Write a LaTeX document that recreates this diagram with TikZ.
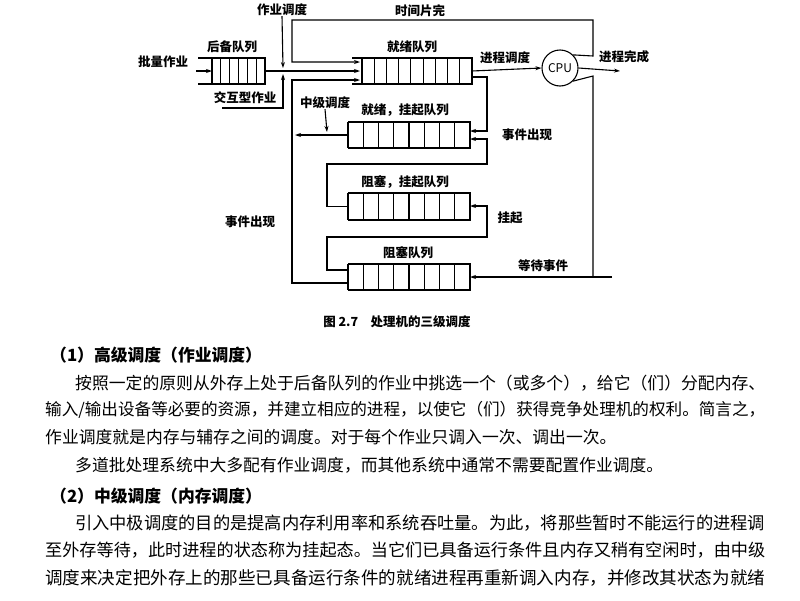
\documentclass[tikz,border=0pt]{standalone}
\usepackage{fontspec}
\setmainfont{Noto Sans CJK SC}
\usetikzlibrary{arrows.meta}
\newcommand\myqueue[6]{% name, xleft, xcellstart, xright, ytop, ybot ; ncells in \myn
  \node[draw=none,minimum width=0pt,inner sep=0pt] (#1) at ({(#2+#4)/2},{(#5+#6)/2}) {};
  \coordinate (#1-w) at (#2,{(#5+#6)/2});
  \coordinate (#1-e) at (#4,{(#5+#6)/2});
  \draw[ql] (#2,#5) -- (#4,#5) -- (#4,#6) -- (#2,#6);
  \foreach \i in {0,...,\myn} {\draw[ql] ({#3+(#4-#3)*\i/(\myn+1)},#5) -- ({#3+(#4-#3)*\i/(\myn+1)},#6);}
}
\newcommand\spreadline[2]{\resizebox{#1}{!}{#2}}
\begin{document}
\begin{tikzpicture}[x=1pt,y=-1pt,
  ql/.style={line width=1.1pt},
  cn/.style={line width=1.1pt},
  ar/.style={cn,-{Stealth[length=6pt,width=4pt]}},
  lb/.style={font=\fontsize{12.5}{13}\selectfont\bfseries,inner sep=0pt},
  tx/.style={font=\fontsize{16.8}{17}\selectfont,inner sep=0pt,anchor=west}]
\useasboundingbox (0,0) rectangle (800,600);
% queues
\def\myn{5}
\myqueue{hb}{198}{212}{265}{58}{84}
\def\myn{8}
\myqueue{jx}{352}{362}{472}{58}{84}
\def\myn{7}
\myqueue{jg}{348}{348}{470}{122}{148}
\myqueue{zg}{348}{348}{470}{193}{220}
\myqueue{zs}{348}{348}{470}{264}{290}
\node[lb] (lhb) at (232,47) {后备队列};
\node[lb] (ljx) at (412,47) {就绪队列};
\node[lb] (ljg) at (405,110) {就绪，挂起队列};
\node[lb] (lzg) at (405,182) {阻塞，挂起队列};
\node[lb] (lzs) at (408,253) {阻塞队列};
\node[circle,draw,line width=1.1pt,minimum size=36pt,inner sep=0pt,font=\fontsize{12}{12}\selectfont] (cpu) at (560,68) {CPU};
% labels
\node[lb] (lpl) at (163,62) {批量作业};
\node[lb] (ljh) at (245,98) {交互型作业};
\node[lb] (lzd) at (282,10) {作业调度};
\node[lb] (lsj) at (420,11) {时间片完};
\node[lb] (ljd) at (505,58) {进程调度};
\node[lb] (lwc) at (624,57) {进程完成};
\node[lb] (lzj) at (325,103) {中级调度};
\node[lb] (lsx1) at (527,135) {事件出现};
\node[lb] (lgq) at (510,218) {挂起};
\node[lb] (ldd) at (543,266) {等待事件};
\node[lb] (lsx2) at (250,222) {事件出现};
\node[font=\fontsize{12.5}{13}\selectfont\bfseries,inner sep=0pt] (cap) at (397,322) {图 2.7\quad 处理机的三级调度};
% connectors
\coordinate (pin) at (196,71);
\draw[ar] (pin) -- (212,71);
\draw[ar] (hb-e) -- (360,71);
\draw[ar] (lzd.south) -- (283,68);
\coordinate (jhs) at (222,108);
\draw[ar] (jhs) -- (283,108) -- (283,74);
% time slice
\draw[ar] (cpu.north east) -- (593,56) -- (593,20) -- (292,20) -- (292,62) -- (360,62);
% process dispatch
\draw[ar] (jx-e) -- (cpu.west);
\coordinate (wc) at (620,71);
\draw[ar] (cpu.east) -- (wc);
% event loops
\draw[ar] (472,77) -- (487,77) -- (487,131) -- (470,131);
\draw[ar] (zg-w) -- (327,206.5) -- (327,164) -- (487,164) -- (487,139) -- (470,139);
\draw[ar] (348,270) -- (327,270) -- (327,237) -- (487,237) -- (487,206) -- (470,206);
% middle scheduling
\draw[ar] (jg-w) -- (295,135);
\draw[ar] (lzj.south) -- (327,132);
% event -> ready
\draw[ar] (348,283) -- (292,283) -- (292,80) -- (360,80);
% wait event
\draw[cn] (cpu.south east) -- (593,76) -- (593,277);
\draw[ar] (612,277) -- (470,277);
% body text
\node[tx] (t1) at (50,355) {\bfseries（1）高级调度（作业调度）};
\node[tx] (t2) at (75,383) {\spreadline{690pt}{按照一定的原则从外存上处于后备队列的作业中挑选一个（或多个），给它（们）分配内存、}};
\node[tx] (t3) at (45,410) {\spreadline{720pt}{输入/输出设备等必要的资源，并建立相应的进程，以使它（们）获得竞争处理机的权利。简言之，}};
\node[tx] (t4) at (45,437) {作业调度就是内存与辅存之间的调度。对于每个作业只调入一次、调出一次。};
\node[tx] (t5) at (75,465) {多道批处理系统中大多配有作业调度，而其他系统中通常不需要配置作业调度。};
\node[tx] (t6) at (50,496) {\bfseries（2）中级调度（内存调度）};
\node[tx] (t7) at (75,523) {\spreadline{690pt}{引入中极调度的目的是提高内存利用率和系统吞吐量。为此，将那些暂时不能运行的进程调}};
\node[tx] (t8) at (45,550) {\spreadline{720pt}{至外存等待，此时进程的状态称为挂起态。当它们已具备运行条件且内存又稍有空闲时，由中级}};
\node[tx] (t9) at (45,578) {\spreadline{720pt}{调度来决定把外存上的那些已具备运行条件的就绪进程再重新调入内存，并修改其状态为就绪}};
\end{tikzpicture}
\end{document}
